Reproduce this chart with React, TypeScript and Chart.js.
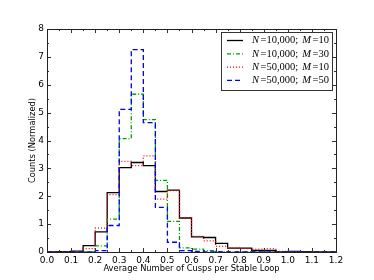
import React, { useEffect, useRef } from "react";
import { Chart, registerables } from "chart.js";

Chart.register(...registerables);

const binStarts = [
  0.0, 0.05, 0.1, 0.15, 0.2, 0.25, 0.3, 0.35, 0.4, 0.45, 0.5, 0.55,
  0.6, 0.65, 0.7, 0.75, 0.8, 0.85, 0.9, 0.95, 1.0, 1.05, 1.1, 1.15,
];
const binEnd = 1.2;

const n10kM10 = [
  0, 0.01, 0.03, 0.23, 0.72, 2.13, 3.03, 3.21, 3.1, 2.17, 2.22, 1.22,
  0.54, 0.52, 0.31, 0.14, 0.14, 0.06, 0.06, 0.0, 0.02, 0.01, 0, 0,
];
const n10kM30 = [
  0, 0, 0, 0, 0.22, 1.18, 4.07, 5.66, 4.75, 2.57, 1.1, 0.15,
  0.1, 0.05, 0.01, 0, 0, 0, 0, 0, 0, 0, 0, 0,
];
const n50kM10 = [
  0, 0, 0, 0.12, 0.86, 2.06, 3.25, 3.1, 3.45, 1.9, 2.2, 1.22,
  0.56, 0.4, 0.2, 0.15, 0.12, 0.1, 0.12, 0.02, 0, 0, 0, 0,
];
const n50kM50 = [
  0, 0, 0, 0, 0.05, 0.95, 5.12, 7.26, 4.64, 1.6, 0.35, 0.05,
  0.02, 0, 0, 0, 0, 0, 0, 0, 0, 0, 0, 0,
];

const seriesLabels = [
  ["N", "=10,000;", "M", "=10"],
  ["N", "=10,000;", "M", "=30"],
  ["N", "=50,000;", "M", "=10"],
  ["N", "=50,000;", "M", "=50"],
];
const seriesColors = ["#000000", "#00a000", "#ff0000", "#0000ff"];
const seriesDashes = [[], [4, 2, 1, 2], [1, 2], [5, 3]];
const seriesValues = [n10kM10, n10kM30, n50kM10, n50kM50];

const xMin = 0;
const xMax = 1.2;
const yMin = 0;
const yMax = 8;

function toPoints(vals: number[]) {
  const pts = binStarts.map((x, i) => ({ x, y: vals[i] }));
  pts.push({ x: binEnd, y: vals[vals.length - 1] });
  return pts;
}

const framePlugin = {
  id: "mplFrame",
  afterDatasetsDraw(chart: any) {
    const { ctx, chartArea, scales } = chart;
    const { left, right, top, bottom } = chartArea;
    const xs = scales.x;
    const ys = scales.y;
    ctx.save();
    ctx.strokeStyle = "#333";
    ctx.lineWidth = 1;
    ctx.beginPath();
    for (let k = 0; k <= 24; k++) {
      const v = k * 0.05;
      const px = Math.round(xs.getPixelForValue(v)) + 0.5;
      const len = k % 2 === 0 ? 4 : 2;
      ctx.moveTo(px, bottom);
      ctx.lineTo(px, bottom - len);
      ctx.moveTo(px, top);
      ctx.lineTo(px, top + len);
    }
    for (let k = 0; k <= 16; k++) {
      const v = k * 0.5;
      const py = Math.round(ys.getPixelForValue(v)) + 0.5;
      const len = k % 2 === 0 ? 4 : 2;
      ctx.moveTo(left, py);
      ctx.lineTo(left + len, py);
      ctx.moveTo(right, py);
      ctx.lineTo(right - len, py);
    }
    ctx.stroke();
    ctx.strokeStyle = "#222";
    ctx.strokeRect(Math.round(left) + 0.5, Math.round(top) + 0.5, Math.round(right - left), Math.round(bottom - top));
    ctx.restore();
  },
  afterDraw(chart: any) {
    const { ctx } = chart;
    const bx = 221.5;
    const by = 32.5;
    const bw = 111;
    const bh = 58;
    ctx.save();
    ctx.fillStyle = "#fff";
    ctx.fillRect(bx, by, bw, bh);
    ctx.strokeStyle = "#333";
    ctx.lineWidth = 1;
    ctx.strokeRect(bx, by, bw, bh);
    const italic = "italic 10.5px 'Liberation Serif'";
    const upright = "10.5px 'Liberation Serif'";
    seriesLabels.forEach((parts, i) => {
      const y = 40.5 + i * 13.3;
      ctx.save();
      ctx.strokeStyle = seriesColors[i];
      ctx.lineWidth = 1.3;
      ctx.setLineDash(seriesDashes[i]);
      ctx.beginPath();
      ctx.moveTo(227, y);
      ctx.lineTo(243, y);
      ctx.stroke();
      ctx.restore();
      let x = 252;
      ctx.fillStyle = "#000";
      ctx.textBaseline = "middle";
      parts.forEach((p, j) => {
        ctx.font = j % 2 === 0 ? italic : upright;
        ctx.fillText(p, x, y);
        x += ctx.measureText(p).width + (j === 1 ? 4 : 1.5);
      });
    });
    ctx.restore();
  },
};

export default function App() {
  const ref = useRef<HTMLCanvasElement | null>(null);
  useEffect(() => {
    if (!ref.current) return;
    const order = [3, 2, 1, 0];
    const chart = new Chart(ref.current, {
      type: "line",
      data: {
        datasets: seriesValues.map((vals, i) => ({
          label: seriesLabels[i].join(" "),
          data: toPoints(vals),
          borderColor: seriesColors[i],
          borderWidth: 1.3,
          borderDash: seriesDashes[i],
          stepped: "before" as const,
          pointRadius: 0,
          fill: false,
          order: order[i],
        })),
      },
      options: {
        animation: false,
        responsive: false,
        devicePixelRatio: 1,
        layout: { padding: { top: 29, right: 38, left: 0, bottom: 0 } },
        plugins: { legend: { display: false }, tooltip: { enabled: false } },
        scales: {
          x: {
            type: "linear",
            min: xMin,
            max: xMax,
            grid: { display: false, drawTicks: false },
            border: { display: false },
            ticks: {
              stepSize: 0.1,
              padding: 3,
              color: "#000",
              font: { family: "'DejaVu Sans'", size: 9 },
              maxRotation: 0,
              autoSkip: false,
              callback: (v: any) => Number(v).toFixed(1),
            },
            title: {
              display: true,
              text: "Average Number of Cusps per Stable Loop",
              color: "#000",
              font: { family: "'DejaVu Sans'", size: 8.3 },
              padding: { top: 0, bottom: 6 },
            },
            afterFit: (s: any) => {
              s.height = 28;
            },
          },
          y: {
            type: "linear",
            min: yMin,
            max: yMax,
            grid: { display: false, drawTicks: false },
            border: { display: false },
            ticks: {
              stepSize: 1,
              padding: 3,
              color: "#000",
              font: { family: "'DejaVu Sans'", size: 9 },
            },
            title: {
              display: true,
              text: "Counts (Normalized)",
              color: "#000",
              font: { family: "'DejaVu Sans'", size: 8.3 },
              padding: { top: 28, bottom: 0 },
            },
            afterFit: (s: any) => {
              s.width = 47;
            },
          },
        },
      },
      plugins: [framePlugin],
    });
    return () => chart.destroy();
  }, []);
  return (
    <div style={{ position: "fixed", left: 0, top: 0, width: 374, height: 280, background: "#fff" }}>
      <canvas ref={ref} width={374} height={280} style={{ width: 374, height: 280, display: "block" }} />
    </div>
  );
}
